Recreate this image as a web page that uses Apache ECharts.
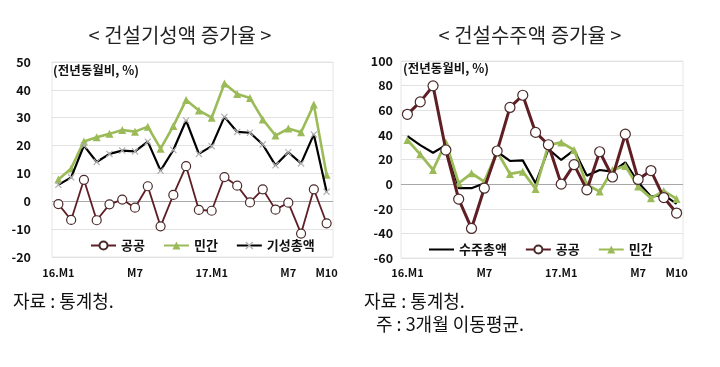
<!DOCTYPE html>
<html><head><meta charset="utf-8">
<script src="https://cdn.jsdelivr.net/npm/echarts@6/dist/echarts.min.js"></script>
<style>html,body{margin:0;padding:0;background:#fff}#c{width:720px;height:367px}</style>
</head><body><div id="c"></div>
<script>
// categories: 2016.M1 .. 2017.M10
const categories = ['16.1','16.2','16.3','16.4','16.5','16.6','16.7','16.8','16.9','16.10','16.11','16.12',
  '17.1','17.2','17.3','17.4','17.5','17.6','17.7','17.8','17.9','17.10'];
const tickIdx = [0, 6, 12, 18, 21];
const tickText = ['16.M1', 'M7', '17.M1', 'M7', 'M10'];

// Left: 건설기성액 증가율
const leftPublic  = [-1, -6.7, 7.7, -6.8, -1.1, 0.6, -2.3, 5.4, -9, 2.3, 12.6, -3.1, -3.4, 8.7, 5.6, -0.4, 4.3, -3, -0.5, -11.6, 4.3, -7.9];
const leftPrivate = [7.8, 11.8, 21.5, 23, 24.2, 25.6, 25, 26.8, 18.9, 27, 36.4, 32.6, 30, 42.3, 38.5, 37.1, 29.4, 23.6, 26.1, 24.8, 34.7, 9.5];
const leftTotal   = [5.9, 8.6, 20, 14.1, 17, 18.2, 17.9, 21.4, 11, 18.4, 29, 17, 19.8, 30.3, 24.9, 24.6, 20.4, 12.9, 17.6, 13.6, 24, 3.4];

// Right: 건설수주액 증가율 (3개월 이동평균)
const rightTotal   = [39, 31.7, 25.5, 31.7, -3.3, -3.3, 0.7, 26.3, 18.8, 19.3, 0.7, 28.5, 19.6, 27.7, 6.9, 11.5, 10.1, 17.7, 1.5, -10.1, -8.7, -16];
const rightPublic  = [56.7, 66.8, 79.8, 27.7, -12.2, -36, -3.3, 26.9, 62.3, 72.2, 42, 32, 0, 15.8, -4.7, 26.3, 5.8, 40.6, 3.8, 11, -10.9, -23.5];
const rightPrivate = [35.8, 24.2, 11.5, 33.9, 0.7, 8.8, 2, 26.3, 8.3, 10.1, -3.9, 31.7, 33.9, 27.7, -0.6, -6, 11.5, 14.7, -2, -11.4, -5.5, -12];

const leftTitle = '< 건설기성액 증가율 >';
const rightTitle = '< 건설수주액 증가율 >';
const unitText = '(전년동월비, %)';

const RED = '#5e1e24', GREEN = '#9bbb59', BLACK = '#000';
const XPATH = 'path://M0,1.2L1.2,0L5,3.8L8.8,0L10,1.2L6.2,5L10,8.8L8.8,10L5,6.2L1.2,10L0,8.8L3.8,5Z';
const LINEICON = 'path://M0,0L0.01,0L0.01,0.01L0,0.01Z M0,3.9L25,3.9L25,6.1L0,6.1Z M0,9.99L0.01,9.99L0.01,10L0,10Z';
const font = '"Noto Sans CJK KR", "Noto Sans", sans-serif';

function xAxisCfg(gi, margin) {
  return {
    type: 'category', gridIndex: gi, data: categories, boundaryGap: true,
    axisLine: {show: false}, axisTick: {show: false}, splitLine: {show: false},
    axisLabel: {
      interval: 0, margin: margin, fontSize: 11, fontWeight: 'bold', color: '#111', fontFamily: font,
      formatter: (v, i) => { const k = tickIdx.indexOf(i); return k >= 0 ? tickText[k] : ''; }
    }
  };
}
function yAxisCfg(gi, min, max, step, zeroIdx, margin) {
  const n = Math.round((max - min) / step) + 1;
  const cols = [];
  for (let i = 0; i < n; i++) cols.push(i === zeroIdx ? '#a8a8a8' : '#e2e2e2');
  return {
    type: 'value', gridIndex: gi, min: min, max: max, interval: step,
    axisLine: {show: false}, axisTick: {show: false},
    axisLabel: {margin: margin, fontSize: 12.5, fontWeight: 'bold', color: '#111', fontFamily: font},
    splitLine: {show: true, lineStyle: {color: cols, width: 1}}
  };
}
const strip = n => n.slice(1);

const chart = echarts.init(document.getElementById('c'), null, {renderer: 'canvas'});
chart.setOption({
  animation: false,
  backgroundColor: '#fff',
  grid: [
    {left: 52, top: 62, width: 281, height: 195, show: true, borderColor: '#e6e6e6', borderWidth: 1},
    {left: 401, top: 61, width: 282, height: 197, show: true, borderColor: '#e6e6e6', borderWidth: 1}
  ],
  xAxis: [xAxisCfg(0, 10), xAxisCfg(1, 9)],
  yAxis: [yAxisCfg(0, -20, 50, 10, 2, 21), yAxisCfg(1, -60, 100, 20, 3, 8)],
  legend: [
    {left: 85, top: 234, itemWidth: 25, itemHeight: 10, itemGap: 18,
     textStyle: {fontSize: 13, fontWeight: 'bold', color: '#111', fontFamily: font},
     formatter: strip, data: ['L공공', 'L민간', 'L기성총액']},
    {left: 424, top: 238, itemWidth: 25, itemHeight: 10, itemGap: 18,
     textStyle: {fontSize: 13, fontWeight: 'bold', color: '#111', fontFamily: font},
     formatter: strip, data: [{name: 'R수주총액', icon: LINEICON}, 'R공공', 'R민간']}
  ],
  series: [
    {name: 'L기성총액', type: 'line', xAxisIndex: 0, yAxisIndex: 0, data: leftTotal,
     symbol: XPATH, symbolSize: 7, itemStyle: {color: '#b0b0b0'},
     lineStyle: {color: BLACK, width: 2.2}, z: 3},
    {name: 'L민간', type: 'line', xAxisIndex: 0, yAxisIndex: 0, data: leftPrivate,
     symbol: 'triangle', symbolSize: 8, itemStyle: {color: GREEN},
     lineStyle: {color: GREEN, width: 2.6}, z: 2},
    {name: 'L공공', type: 'line', xAxisIndex: 0, yAxisIndex: 0, data: leftPublic,
     symbol: 'circle', symbolSize: 9, itemStyle: {color: '#fff', borderColor: '#4a2a2a', borderWidth: 1.2},
     lineStyle: {color: RED, width: 1.8}, z: 4},
    {name: 'R수주총액', type: 'line', xAxisIndex: 1, yAxisIndex: 1, data: rightTotal,
     symbol: 'none', lineStyle: {color: BLACK, width: 2.2}, itemStyle: {color: BLACK}, z: 2},
    {name: 'R민간', type: 'line', xAxisIndex: 1, yAxisIndex: 1, data: rightPrivate,
     symbol: 'triangle', symbolSize: 8, itemStyle: {color: GREEN},
     lineStyle: {color: GREEN, width: 2.8}, z: 3},
    {name: 'R공공', type: 'line', xAxisIndex: 1, yAxisIndex: 1, data: rightPublic,
     symbol: 'circle', symbolSize: 10, itemStyle: {color: '#fff', borderColor: '#4a2a2a', borderWidth: 1.2},
     lineStyle: {color: RED, width: 3}, z: 4}
  ],
  graphic: [
    {type: 'text', x: 180, y: 35.5, style: {text: leftTitle, fontSize: 20, fontFamily: font, fill: '#222', align: 'center', verticalAlign: 'middle'}},
    {type: 'text', x: 530, y: 35.5, style: {text: rightTitle, fontSize: 20, fontFamily: font, fill: '#222', align: 'center', verticalAlign: 'middle'}},
    {type: 'text', x: 53, y: 70, style: {text: unitText, fontSize: 12.5, fontWeight: 'bold', fontFamily: font, fill: '#111', verticalAlign: 'middle'}},
    {type: 'text', x: 403, y: 68, style: {text: unitText, fontSize: 12.5, fontWeight: 'bold', fontFamily: font, fill: '#111', verticalAlign: 'middle'}},
    {type: 'text', x: 13, y: 301, style: {text: '자료 : 통계청.', fontSize: 18, fontFamily: font, fill: '#111', verticalAlign: 'middle'}},
    {type: 'text', x: 364, y: 301, style: {text: '자료 : 통계청.', fontSize: 18, fontFamily: font, fill: '#111', verticalAlign: 'middle'}},
    {type: 'text', x: 376, y: 324, style: {text: '주 : 3개월 이동평균.', fontSize: 18, fontFamily: font, fill: '#111', verticalAlign: 'middle'}}
  ]
});
</script></body></html>
